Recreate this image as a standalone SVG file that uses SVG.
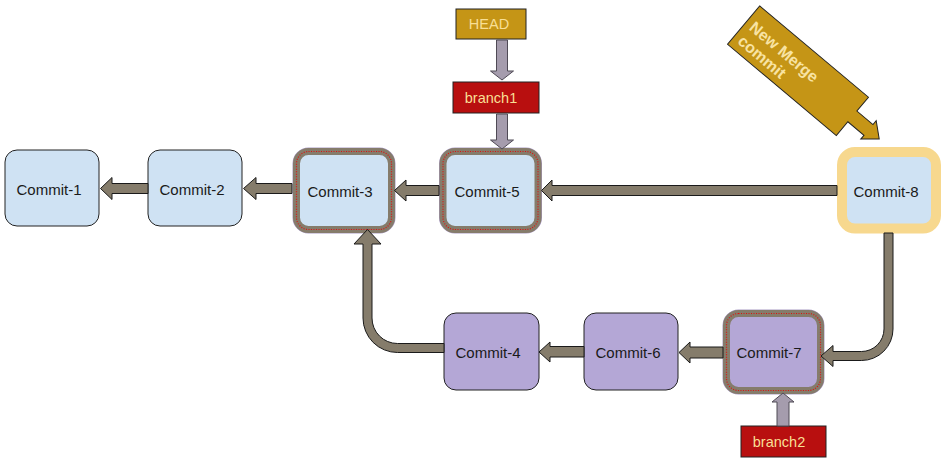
<svg xmlns="http://www.w3.org/2000/svg" width="949" height="462" viewBox="0 0 949 462">
<style>
.blue{fill:#cfe2f3;stroke:#222;stroke-width:1}
.purple{fill:#b4a7d6;stroke:#222;stroke-width:1}
.bord{fill:none;stroke:#857c6b;stroke-width:7}
.bordo{fill:none;stroke:#a99bc4;stroke-width:8}
.dots{fill:none;stroke:#e01010;stroke-width:1.2;stroke-dasharray:1 1.5}
.t{font-family:"Liberation Sans",Arial,sans-serif;font-size:15px;fill:#1a1a1a;text-anchor:middle}
.lbl{font-family:"Liberation Sans",Arial,sans-serif;font-size:14.5px;fill:#f8df95;text-anchor:middle}
.arr{fill:#857c6b;stroke:#1a1a1a;stroke-width:1;stroke-linejoin:miter}
.parr{fill:#a59cad;stroke:#4f4a55;stroke-width:1}
.red{fill:#b80f0f;stroke:#222;stroke-width:1}
.gold{fill:#c59516;stroke:#222;stroke-width:1}
.ct{font-family:"Liberation Sans",Arial,sans-serif;font-size:16px;font-weight:bold;fill:#f8e3a3}
</style>
<rect width="949" height="462" fill="#ffffff"/>

<g id="commit-1"><rect class="blue" x="5" y="150" width="94" height="76" rx="12"/><text class="t" x="49" y="195">Commit-1</text></g>
<g id="commit-2"><rect class="blue" x="148" y="150" width="94" height="76" rx="12"/><text class="t" x="192" y="195">Commit-2</text></g>
<g id="commit-3"><rect class="bordo" x="296.5" y="151.5" width="95" height="78" rx="12"/><rect class="blue" x="296.5" y="151.5" width="95" height="78" rx="12" style="stroke:none"/><rect class="bord" x="296.5" y="151.5" width="95" height="78" rx="12"/><rect class="dots" x="296.5" y="151.5" width="95" height="78" rx="12"/><text class="t" x="340" y="197">Commit-3</text></g>
<g id="commit-5"><rect class="bordo" x="443" y="151.5" width="95" height="78" rx="12"/><rect class="blue" x="443" y="151.5" width="95" height="78" rx="12" style="stroke:none"/><rect class="bord" x="443" y="151.5" width="95" height="78" rx="12"/><rect class="dots" x="443" y="151.5" width="95" height="78" rx="12"/><text class="t" x="487" y="197">Commit-5</text></g>
<g id="commit-8"><rect x="842" y="152" width="94" height="76.5" rx="13" fill="#cfe2f3" stroke="#f7d88e" stroke-width="10"/><text class="t" x="886" y="197">Commit-8</text></g>
<g id="commit-4"><rect class="purple" x="444" y="313" width="95" height="77" rx="12"/><text class="t" x="488" y="358">Commit-4</text></g>
<g id="commit-6"><rect class="purple" x="584" y="313" width="94" height="77" rx="12"/><text class="t" x="628" y="358">Commit-6</text></g>
<g id="commit-7"><rect class="bordo" x="726.5" y="313.5" width="94" height="77" rx="12"/><rect class="purple" x="726.5" y="313.5" width="94" height="77" rx="12" style="stroke:none"/><rect class="bord" x="726.5" y="313.5" width="94" height="77" rx="12"/><rect class="dots" x="726.5" y="313.5" width="94" height="77" rx="12"/><text class="t" x="769" y="358">Commit-7</text></g>

<g id="head"><rect class="gold" x="456" y="9" width="70" height="30"/><text class="lbl" x="489" y="29">HEAD</text></g>
<g id="branch1"><rect class="red" x="453" y="82" width="86" height="31"/><text class="lbl" x="491" y="103">branch1</text></g>
<g id="branch2"><rect class="red" x="741" y="426" width="85" height="31"/><text class="lbl" x="779" y="447">branch2</text></g>

<g id="callout" transform="translate(798,70.75) rotate(40)">
<path class="gold" d="M-71,-25 L71,-25 L71,-7 L92,-7 L92,-12 L106,0 L92,12 L92,7 L71,7 L71,25 L-71,25 Z"/>
<text class="ct" x="-65" y="0">New Merge</text>
<text class="ct" x="-65" y="18">commit</text>
</g>

<g id="connectors">
<path class="arr" d="M148,183.5 L112,183.5 L112,177.5 L100.5,188.5 L112,199.5 L112,193.5 L148,193.5 Z"/>
<path class="arr" d="M292,183.5 L256,183.5 L256,177.5 L243.5,188.5 L256,199.5 L256,193.5 L292,193.5 Z"/>
<path class="arr" d="M439,185.5 L406,185.5 L406,180 L394.5,190.5 L406,201 L406,195.5 L439,195.5 Z"/>
<path class="arr" d="M837,185.5 L552,185.5 L552,180 L541.5,190.5 L552,201 L552,195.5 L837,195.5 Z"/>
<path class="arr" d="M584,346.5 L550,346.5 L550,342 L539,352 L550,362 L550,357 L584,357 Z"/>
<path class="arr" d="M723,347 L690,347 L690,342 L679,352.5 L690,363 L690,358 L723,358 Z"/>
<path class="arr" d="M444,352.5 L397.5,352.5 A34.5,34.5 0 0 1 363,318 L363,244 L354,244 L367.5,229.5 L381,244 L372,244 L372,318 A25.5,25.5 0 0 0 397.5,343.5 L444,343.5 Z"/>
<path class="arr" d="M884,233 L893,233 L893,329 A31.5,31.5 0 0 1 861.5,360.5 L833,360.5 L833,366.5 L821,356 L833,345.5 L833,351.5 L861.5,351.5 A22.5,22.5 0 0 0 884,329 Z"/>
<path class="parr" d="M496.5,40 L507.5,40 L507.5,71 L513.5,71 L502,80 L490.5,71 L496.5,71 Z"/>
<path class="parr" d="M496.5,114 L507.5,114 L507.5,140 L513.5,140 L502,149 L490.5,140 L496.5,140 Z"/>
<path class="parr" d="M777,426 L789,426 L789,402 L794,402 L783,393 L772,402 L777,402 Z"/>
</g>
</svg>
